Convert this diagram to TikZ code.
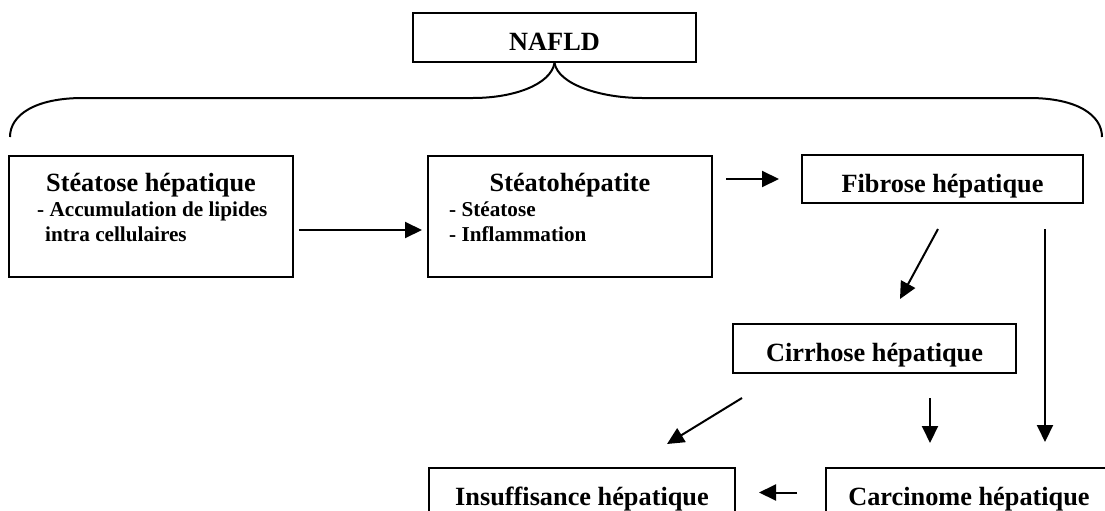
\documentclass[tikz,border=0pt]{standalone}
\usepackage{fontspec}
\setmainfont{Liberation Serif}
\usetikzlibrary{arrows.meta, calc}

\begin{document}
\begin{tikzpicture}[
    x=1pt, y=-1pt,
    box/.style={rectangle, draw, line width=2pt, minimum width=283pt, minimum height=49pt, inner sep=0pt, font=\fontsize{26.3}{30}\selectfont\bfseries, text height=29pt, text depth=3pt},
    bigbox/.style={rectangle, draw, line width=2pt, minimum width=284pt, minimum height=121pt, inner sep=0pt},
    title/.style={inner sep=0pt, anchor=base, font=\fontsize{26.3}{30}\selectfont\bfseries},
    item/.style={inner sep=0pt, anchor=base west, font=\fontsize{21.2}{25.5}\selectfont\bfseries},
    arrow/.style={-{Triangle[length=17pt, width=16pt]}, line width=2pt},
    brace/.style={line width=2pt}
]
    \useasboundingbox (0,0) rectangle (1105,511);
    \clip (0,0) rectangle (1105,511);

    \node[box] (nafld) at (554.5,37.5) {NAFLD};

    \node[bigbox] (steatose) at (151,216.5) {};
    \node[title] (steatoseT) at ($(steatose.north)+(0,36)$) {Stéatose hépatique};
    \node[item] (steatoseL) at ($(steatose.north west)+(29,61)$) {\begin{tabular}[t]{@{}l@{}}- Accumulation de lipides\\\hspace*{8pt}intra cellulaires\end{tabular}};

    \node[bigbox] (steatohep) at (570,216.5) {};
    \node[title] (steatohepT) at ($(steatohep.north)+(0,36)$) {Stéatohépatite};
    \node[item] (steatohepL) at ($(steatohep.north west)+(22,61)$) {\begin{tabular}[t]{@{}l@{}}- Stéatose\\- Inflammation\end{tabular}};

    \node[box, minimum width=281pt, minimum height=48pt] (fibrose) at (942.5,179) {Fibrose hépatique};
    \node[box] (cirrhose) at (874.5,348.5) {Cirrhose hépatique};
    \node[box, minimum width=306pt] (insuff) at (582,492.5) {Insuffisance hépatique};
    \node[box, minimum width=286pt] (carcinome) at (969,492.5) {Carcinome hépatique};

    \coordinate (braceL) at (10,137);
    \coordinate (braceR) at (1102,137);
    \draw[brace] (nafld.south) .. controls +(-4,22) and +(40,0) .. (473,98) -- (83,98) .. controls (35,98) and (10,115) .. (braceL);
    \draw[brace] (nafld.south) .. controls +(4,22) and +(-40,0) .. (642,98) -- (1029,98) .. controls (1077,98) and (1102,115) .. (braceR);

    \draw[arrow, shorten <=5pt, shorten >=5pt] ([yshift=-13.5pt]steatose.east) -- ([yshift=-13.5pt]steatohep.west);
    \draw[arrow, shorten <=13pt, shorten >=22pt] (steatohep.east |- fibrose.west) -- (fibrose.west);
    \draw[arrow] ($(fibrose.south)+(-4.5,25)$) -- ($(cirrhose.north)+(25.5,-24)$);
    \coordinate (fibR) at ($(fibrose.south)+(102.5,0)$);
    \draw[arrow, shorten <=25pt, shorten >=25pt] (fibR) -- (fibR |- carcinome.north);
    \draw[arrow] ($(cirrhose.south west)+(10,24)$) -- ($(insuff.north)+(85,-23)$);
    \coordinate (cirR) at ($(cirrhose.south)+(55.5,0)$);
    \draw[arrow, shorten <=24pt, shorten >=24pt] (cirR) -- (cirR |- carcinome.north);
    \draw[arrow, shorten <=28pt, shorten >=23pt] (carcinome.west) -- (insuff.east);
\end{tikzpicture}
\end{document}
